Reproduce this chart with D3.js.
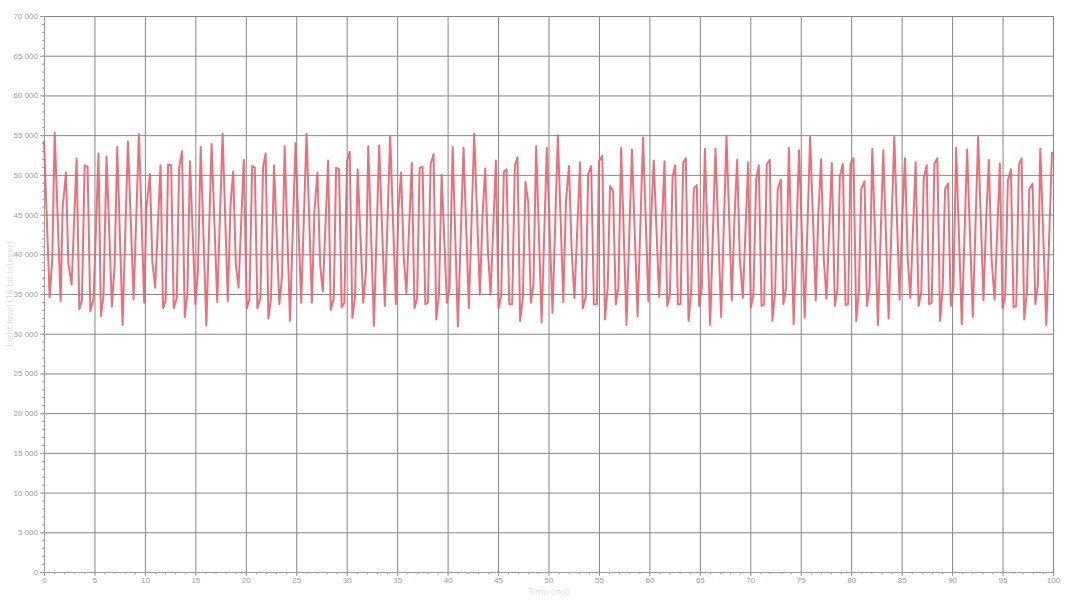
<!DOCTYPE html>
<html>
<head>
<meta charset="utf-8">
<script src="https://cdn.jsdelivr.net/npm/d3@7"></script>
<style>
  html, body { margin: 0; padding: 0; background: #fff; }
  svg { display: block; font-family: "Open Sans", "Noto Sans", sans-serif; }
  .tick text { fill: #9a9a9a; font-size: 8px; }
  .axis path, .axis line { stroke: #9a9a9a; }
  .grid line { stroke: #858585; stroke-width: 1; }
  .axis-title { fill: #dcdcdc; font-size: 9px; }
</style>
</head>
<body>
<svg id="chart" width="1066" height="600"></svg>
<script>
// Vertices of the trace (time in ms, level as 16 bit integer)
const timeMs = [
  0, 0.56, 0.82, 1.06, 1.65, 1.85, 2.18, 2.41, 2.74, 3.23, 3.5, 3.76, 4.03, 4.32, 4.59, 4.92,
  5.4, 5.64, 5.9, 6.2, 6.73, 7.0, 7.26, 7.79, 8.32, 8.88, 9.41, 9.93, 10.15, 10.5, 10.74, 11.02,
  11.55, 11.8, 12.06, 12.3, 12.6, 12.86, 13.16, 13.39, 13.68, 13.95, 14.21, 14.47, 15.0, 15.26,
  15.53, 16.09, 16.61, 17.17, 17.7, 18.22, 18.49, 18.75, 19.01, 19.28, 19.8, 20.1, 20.36, 20.63,
  20.89, 21.15, 21.45, 21.71, 21.97, 22.24, 22.5, 22.8, 23.32, 23.59, 23.85, 24.38, 24.93, 25.49,
  26.02, 26.55, 26.81, 27.1, 27.37, 27.63, 28.16, 28.42, 28.72, 28.95, 29.24, 29.5, 29.77, 30.03,
  30.3, 30.56, 30.82, 31.09, 31.64, 31.91, 32.14, 32.7, 33.22, 33.78, 34.31, 34.87, 35.13, 35.39,
  35.66, 35.92, 36.45, 36.72, 36.98, 37.23, 37.52, 37.79, 38.05, 38.32, 38.61, 38.88, 39.14, 39.41,
  39.93, 40.2, 40.5, 41.02, 41.58, 42.11, 42.64, 43.2, 43.47, 43.73, 44.0, 44.26, 44.79, 45.05,
  45.31, 45.58, 45.84, 46.11, 46.4, 46.67, 46.93, 47.19, 47.46, 47.72, 47.99, 48.25, 48.51, 48.78,
  49.32, 49.83, 50.4, 50.93, 51.47, 51.73, 52.03, 52.3, 52.57, 53.13, 53.4, 53.7, 53.93, 54.23,
  54.5, 54.8, 55.0, 55.33, 55.6, 55.87, 56.1, 56.4, 56.67, 56.93, 57.2, 57.73, 58.27, 58.83,
  59.37, 59.9, 60.17, 60.43, 60.97, 61.5, 61.77, 62.03, 62.3, 62.56, 62.82, 63.09, 63.35, 63.61,
  63.88, 64.14, 64.41, 64.7, 64.93, 65.2, 65.5, 66.02, 66.55, 67.11, 67.64, 68.17, 68.43, 68.7,
  68.96, 69.26, 69.79, 70.05, 70.31, 70.58, 70.84, 71.11, 71.37, 71.63, 71.93, 72.19, 72.46, 72.72,
  73.02, 73.28, 73.55, 73.82, 74.3, 74.83, 75.4, 75.93, 76.49, 76.75, 77.02, 77.28, 77.55, 78.08,
  78.38, 78.64, 78.87, 79.17, 79.44, 79.7, 79.93, 80.23, 80.5, 80.76, 80.99, 81.32, 81.56, 81.82,
  82.09, 82.65, 83.18, 83.71, 84.27, 84.8, 85.07, 85.33, 85.6, 85.86, 86.39, 86.68, 86.95, 87.19,
  87.48, 87.72, 87.98, 88.25, 88.54, 88.81, 89.07, 89.3, 89.6, 89.87, 90.13, 90.4, 90.96, 91.49,
  92.05, 92.58, 93.11, 93.38, 93.64, 93.91, 94.21, 94.74, 95.0, 95.26, 95.53, 95.83, 96.09, 96.36,
  96.62, 96.89, 97.15, 97.42, 97.65, 97.98, 98.25, 98.51, 98.74, 99.34, 99.9
];
const lightLevel = [
  54300, 34600, 39300, 55300, 34100, 45900, 50300, 38900, 36200, 52100, 33100, 34200, 51200, 51000, 32800, 34500,
  52700, 32200, 34800, 52300, 33400, 38500, 53500, 31100, 54200, 34300, 55100, 33900, 45800, 50100, 39000, 35800,
  51200, 33200, 34200, 51300, 51200, 33200, 34500, 50900, 53000, 32100, 35000, 51700, 33700, 37900,
  53500, 31000, 53900, 34000, 55200, 34100, 46300, 50400, 38800, 35800, 51900, 33200, 34300, 51100,
  50900, 33200, 34500, 51000, 52700, 31900, 34500, 51200, 33700, 37200, 53600, 31600, 54000, 33900,
  55200, 33900, 45600, 50300, 38700, 35300, 51800, 33000, 34500, 50900, 50700, 33300, 33900, 51700,
  52900, 32000, 34500, 50700, 33900, 37900, 53600, 31000, 53700, 33500, 54900, 33700, 45800, 50300,
  39500, 35100, 51500, 33200, 34500, 50900, 51000, 33700, 33900, 51400, 52600, 31800, 34900, 50000,
  33900, 35800, 53500, 30900, 53400, 33200, 55200, 34900, 45000, 50800, 40400, 34900, 51800, 33200,
  34700, 50400, 50700, 33700, 33700, 51200, 52200, 31600, 34500, 49100, 46600, 33900, 36200, 53600,
  31400, 53400, 32600, 55000, 34000, 46700, 51100, 40400, 34500, 51600, 33200, 34700, 50100, 51100,
  33700, 33700, 51700, 52400, 31800, 35800, 48600, 48000, 33700, 35800, 53400, 31100, 53200, 32200,
  54700, 34100, 44400, 51800, 34600, 51700, 33500, 34900, 49800, 51200, 33700, 33700, 51500, 52100,
  31600, 35300, 48300, 48700, 33500, 35800, 53300, 31100, 53300, 32100, 54900, 34200, 44400, 51900,
  39500, 34500, 51600, 33300, 34900, 49400, 51200, 33500, 33700, 51300, 51900, 31600, 35300, 48200,
  49400, 33700, 35800, 53400, 31200, 53100, 32000, 54800, 34200, 45200, 52000, 39500, 34400, 51500,
  33500, 35600, 49800, 51400, 33600, 33700, 51400, 52100, 31600, 35300, 48200, 49200, 33500, 35800,
  53300, 31100, 53100, 31900, 54800, 34300, 44800, 52100, 39500, 34500, 51600, 33500, 35300, 49500,
  51200, 33700, 33900, 51400, 52100, 31600, 35800, 48200, 48900, 33500, 35800, 53400, 31200, 53200,
  32100, 54800, 34200, 44400, 51900, 39500, 34300, 51400, 33200, 34700, 49300, 50700, 33300, 33500,
  51300, 52100, 31800, 35300, 48200, 48900, 33700, 36200, 53300, 31100, 52900
];
const xTicks = [0, 5, 10, 15, 20, 25, 30, 35, 40, 45, 50, 55, 60, 65, 70, 75, 80, 85, 90, 95, 100];
const yTicks = [0, 5000, 10000, 15000, 20000, 25000, 30000, 35000, 40000, 45000, 50000, 55000, 60000, 65000, 70000];

const margin = { top: 16, right: 13, bottom: 28, left: 44 };
const width = 1066 - margin.left - margin.right;
const height = 600 - margin.top - margin.bottom;

const svg = d3.select("#chart");
const g = svg.append("g").attr("transform", `translate(${margin.left},${margin.top})`);

const x = d3.scaleLinear().domain([0, 100]).range([0, width]);
const y = d3.scaleLinear().domain([0, 70000]).range([height, 0]);

const fmt = v => d3.format(",")(v).replace(/,/g, " ");

// Grid
g.append("g").attr("class", "grid")
  .selectAll("line").data(yTicks).join("line")
  .attr("x1", 0).attr("x2", width)
  .attr("y1", d => y(d) + 0.5).attr("y2", d => y(d) + 0.5);
g.append("g").attr("class", "grid")
  .selectAll("line").data(xTicks).join("line")
  .attr("y1", 0).attr("y2", height)
  .attr("x1", d => x(d) + 0.5).attr("x2", d => x(d) + 0.5);

// Minor ticks
g.append("g").attr("class", "axis")
  .call(d3.axisLeft(y).ticks(70).tickSize(2).tickFormat(""))
  .call(a => a.select(".domain").remove());
g.append("g").attr("class", "axis")
  .attr("transform", `translate(0,${height})`)
  .call(d3.axisBottom(x).ticks(100).tickSize(2).tickFormat(""))
  .call(a => a.select(".domain").remove());

// Major axes
g.append("g").attr("class", "axis")
  .call(d3.axisLeft(y).tickValues(yTicks).tickSize(4).tickPadding(2).tickSizeOuter(0).tickFormat(fmt));
g.append("g").attr("class", "axis")
  .attr("transform", `translate(0,${height})`)
  .call(d3.axisBottom(x).tickValues(xTicks).tickSize(4).tickPadding(1).tickSizeOuter(0));

// Trace
const points = timeMs.map((t, i) => [t, lightLevel[i]]);
g.append("path")
  .datum(points)
  .attr("fill", "none")
  .attr("stroke", "#e8606e")
  .attr("stroke-opacity", 0.9)
  .attr("stroke-width", 2)
  .attr("stroke-linejoin", "round")
  .attr("d", d3.line().x(d => x(d[0])).y(d => y(d[1])));

// Axis titles
svg.append("text").attr("class", "axis-title")
  .attr("transform", `translate(13,${margin.top + height / 2}) rotate(-90)`)
  .attr("text-anchor", "middle")
  .text("Light level (16 bit integer)");
svg.append("text").attr("class", "axis-title")
  .attr("x", margin.left + width / 2).attr("y", 595)
  .attr("text-anchor", "middle")
  .text("Time (ms)");
</script>
</body>
</html>
